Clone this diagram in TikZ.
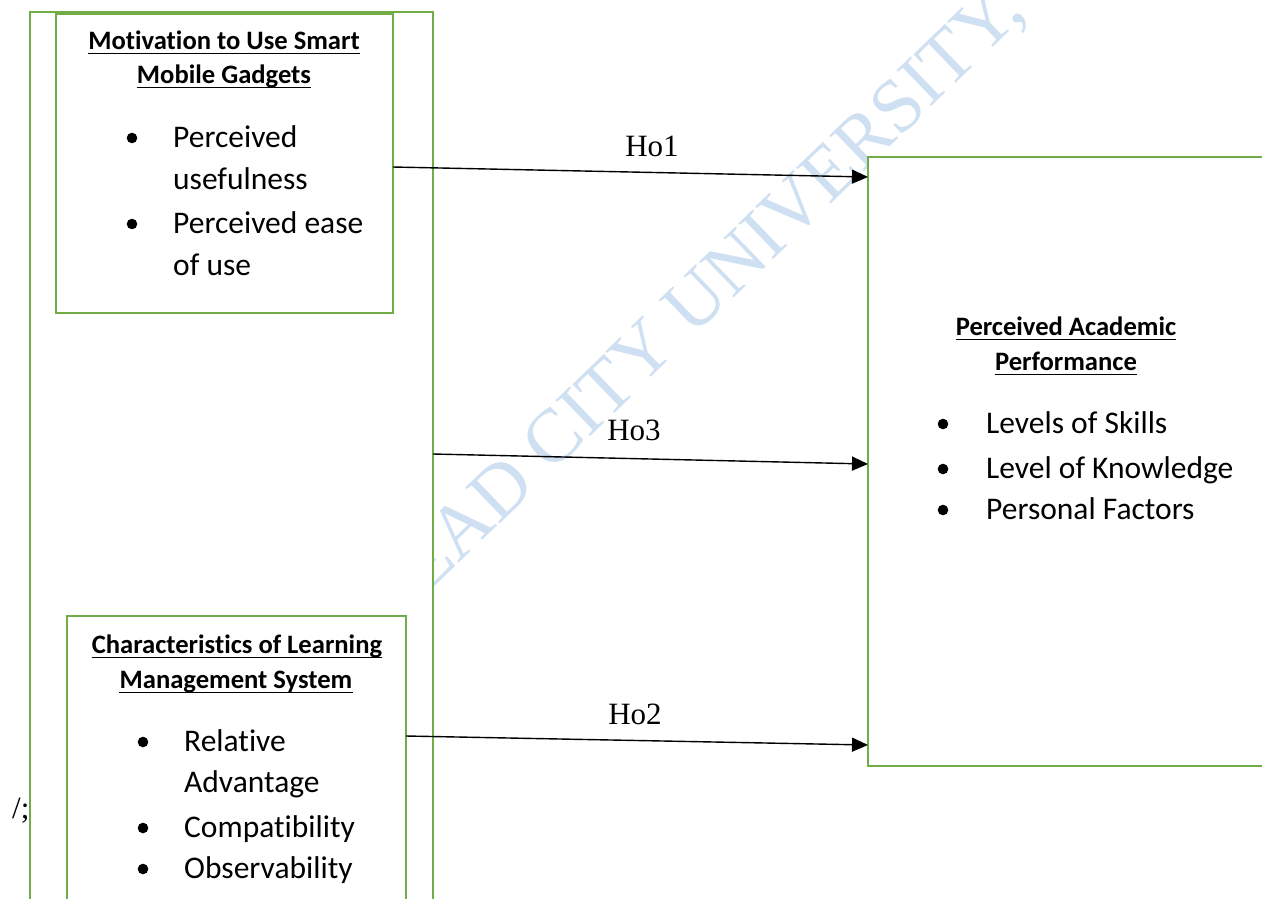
\documentclass[tikz,border=0pt]{standalone}
\usepackage{fontspec}
\setmainfont{Carlito}[Ligatures=CommonOff]
\newfontfamily\tnr{Liberation Serif}
\usetikzlibrary{arrows.meta}
\definecolor{boxgreen}{RGB}{112,173,71}
\definecolor{wmblue}{RGB}{207,224,242}
\tikzset{
  box/.style={draw=boxgreen, line width=2.6pt, fill=white, rectangle, inner sep=0pt, outer sep=0pt, anchor=north west},
  head/.style={font=\bfseries\fontsize{26.6}{32}\selectfont, inner sep=0pt, anchor=base},
  item/.style={font=\fontsize{31.5}{38}\selectfont, inner sep=0pt, anchor=base west},
  hlabel/.style={font=\tnr\fontsize{31}{36}\selectfont, inner sep=0pt, anchor=base},
  arr/.style={line width=1.4pt, -{Triangle[length=16pt,width=14pt]}},
  uline/.style={line width=1.4pt},
  bul/.style={fill=black}
}
\newcommand{\ul}[1]{\draw[uline] ([yshift=-4.5pt]#1.base west) -- ([yshift=-4.5pt]#1.base east);}
\begin{document}
\begin{tikzpicture}[x=1pt,y=1pt]
\useasboundingbox (0,0) rectangle (1262,-898);
\fill[white] (0,0) rectangle (1262,-898);
% watermark
\node[rotate=44, anchor=base west, inner sep=0pt, text=wmblue, font=\tnr\fontsize{76}{76}\selectfont] (wm) at (392,-628) {LEAD CITY UNIVERSITY, IBADAN};
% boxes
\node[box, minimum width=403pt, minimum height=910pt] (outer) at (30,-12) {};
\node[box, minimum width=337pt, minimum height=299pt] (mot) at (56,-14) {};
\node[box, minimum width=339pt, minimum height=300pt] (lms) at (67,-616) {};
\node[box, minimum width=420pt, minimum height=609pt] (perf) at (868,-157) {};
% top box text
\node[head] (m1) at (224,-49) {Motivation to Use Smart}; \ul{m1}
\node[head] (m2) at (224,-83) {Mobile Gadgets}; \ul{m2}
\fill[bul] (132,-138) circle (5.3pt);
\fill[bul] (132,-224) circle (5.3pt);
\node[item] (mi1) at (173,-147) {Perceived};
\node[item] (mi2) at (173,-189) {usefulness};
\node[item] (mi3) at (173,-233) {Perceived ease};
\node[item] (mi4) at (173,-275) {of use};
% bottom box text
\node[head] (l1) at (237,-653) {Characteristics of Learning}; \ul{l1}
\node[head] (l2) at (236,-688) {Management System}; \ul{l2}
\fill[bul] (143,-742) circle (5.3pt);
\fill[bul] (143,-828) circle (5.3pt);
\fill[bul] (143,-869) circle (5.3pt);
\node[item] (li1) at (184,-751) {Relative};
\node[item] (li2) at (184,-792) {Advantage};
\node[item] (li3) at (184,-837) {Compatibility};
\node[item] (li4) at (184,-878) {Observability};
% right box text
\node[head] (p1) at (1066,-335) {Perceived Academic}; \ul{p1}
\node[head] (p2) at (1066,-370) {Performance}; \ul{p2}
\fill[bul] (943,-424) circle (5.3pt);
\fill[bul] (943,-469) circle (5.3pt);
\fill[bul] (943,-510) circle (5.3pt);
\node[item] (pi1) at (986,-433) {Levels of Skills};
\node[item] (pi2) at (986,-478) {Level of Knowledge};
\node[item] (pi3) at (986,-519) {Personal Factors};
% stray text
\node[hlabel, anchor=base west] (stray) at (12,-818) {/;};
% connectors
\draw[arr] ([yshift=-153pt]mot.north east) -- ([yshift=-20pt]perf.north west);
\draw[arr] ([yshift=-442pt]outer.north east) -- ([yshift=-307pt]perf.north west);
\draw[arr] ([yshift=-120pt]lms.north east) -- ([yshift=-588pt]perf.north west);
\node[hlabel] (h1) at (652,-156) {Ho1};
\node[hlabel] (h3) at (634,-440) {Ho3};
\node[hlabel] (h2) at (635,-724) {Ho2};
\end{tikzpicture}
\end{document}
